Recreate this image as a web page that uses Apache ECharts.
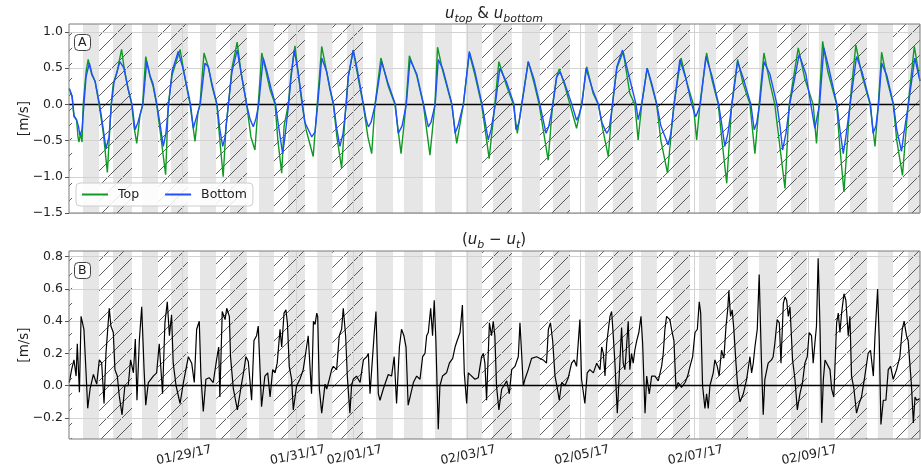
<!DOCTYPE html>
<html>
<head>
<meta charset="utf-8">
<title>u_top &amp; u_bottom</title>
<script src="https://cdn.jsdelivr.net/npm/echarts@6/dist/echarts.min.js"></script>
<style>
  html, body { margin: 0; padding: 0; background: #fff; }
  #main { width: 921px; height: 469px; }
</style>
</head>
<body>
<div id="main"></div>
<script>
// x is hours since 01/27/17 00:00
var xMax = 359.3;
var tickHours = [48, 96, 120, 168, 216, 264, 312];
var tickLabels = ['01/29/17', '01/31/17', '02/01/17', '02/03/17', '02/05/17', '02/07/17', '02/09/17'];
var ticksA = [-1.5, -1.0, -0.5, 0.0, 0.5, 1.0];
var ticksB = [-0.2, 0.0, 0.2, 0.4, 0.6, 0.8];

// shaded (gray) and hatched periods, [start, end] in hours
var grayBands = [[5.9,12.7],[18.6,26.6],[30.8,37.6],[43.1,50.2],[55.3,62.1],[68.0,75.1],[80.2,86.5],[92.5,99.6],
  [104.8,111.2],[117.4,124.1],[129.6,136.8],[141.4,149.4],[154.5,161.7],[167.6,174.4],[179.0,187.0],[191.2,198.8],
  [204.3,211.5],[217.8,223.3],[229.6,238.1],[241.5,248.2],[255.0,262.2],[266.0,273.2],[280.3,286.7],[291.3,298.9],
  [304.8,311.5],[316.6,323.3],[329.7,336.9],[341.5,347.9],[354.2,359.3]];
var hatchBands = [[0,1.3],[12.7,26.6],[37.6,50.2],[62.1,75.1],[86.5,99.6],[111.2,124.1],[174.4,187.0],[198.8,211.5],
  [223.3,238.1],[248.2,262.2],[273.2,286.7],[298.9,311.5],[323.3,336.9],[347.9,359.3]];

// u_top [hour, m/s]
var topVel = [[0.1,0.22],[1.3,0.10],[2.1,-0.17],[3.2,-0.21],[3.8,-0.45],[4.2,-0.52],[4.9,-0.40],[5.5,-0.52],[6.0,0],[7.2,0.45],[8.1,0.62],[9.6,0.41],[11.0,0.32],[12.7,0],[14.5,-0.40],[16.2,-0.94],[17.8,0],[18.7,0.29],[20.3,0.45],[22.2,0.76],[23.2,0.52],[24.9,0.22],[26.5,0],[27.4,-0.30],[28.6,-0.54],[30.0,-0.15],[31.1,0],[32.4,0.66],[34.2,0.38],[35.5,0.25],[37.0,0],[38.8,-0.45],[40.8,-0.97],[41.9,0],[43.5,0.40],[46.9,0.76],[48.5,0.45],[50.2,0.15],[51.1,0],[53.2,-0.51],[54.5,-0.10],[55.3,0],[57.0,0.71],[58.8,0.52],[60.4,0.25],[62.4,0],[63.7,-0.50],[65.1,-1.00],[66.3,-0.30],[67.3,0],[68.8,0.50],[71.0,0.86],[72.6,0.45],[75.0,0],[76.8,-0.45],[78.5,-0.63],[79.9,0],[81.4,0.71],[83.2,0.45],[84.9,0.20],[87.0,0],[88.2,-0.50],[89.8,-0.95],[90.8,-0.30],[92.6,0],[93.7,0.40],[95.4,0.81],[96.7,0.45],[98.4,0],[100.1,-0.35],[103.1,-0.72],[104.8,0],[106.7,0.80],[108.8,0.45],[110.2,0.20],[111.6,0],[113.1,-0.45],[115.1,-0.88],[116.9,0],[117.9,0.38],[120.0,0.75],[121.6,0.45],[124.2,0],[126.2,-0.45],[127.8,-0.68],[129.2,0],[131.7,0.64],[134.8,0.25],[137.6,0],[140.2,-0.68],[142.3,0],[143.7,0.67],[146.8,0.40],[149.6,0],[152.4,-0.70],[154.5,0],[155.6,0.79],[157.9,0.45],[161.6,0],[163.7,-0.54],[166.5,0],[169.0,0.71],[171.4,0.40],[174.2,0],[177.4,-0.75],[179.8,0],[181.5,0.59],[184.8,0.25],[187.6,0],[189.3,-0.40],[191.1,0],[193.9,0.59],[196.3,0.30],[198.5,0],[202.3,-0.77],[204.2,0],[205.9,0.38],[207.0,0.49],[209.4,0.25],[211.5,0],[214.3,-0.33],[216.4,0],[218.6,0.52],[221.3,0.15],[223.5,0],[225.4,-0.35],[227.7,-0.72],[229.4,0],[231.3,0.50],[234.0,0.73],[236.8,0.15],[238.9,0],[240.3,-0.49],[241.8,0],[244.1,0.50],[246.1,0.25],[248.1,0],[249.9,-0.50],[252.7,-0.95],[255.4,0],[258.4,0.64],[260.9,0.30],[263.6,0],[265.0,-0.49],[266.4,0],[269.2,0.71],[271.4,0.35],[274.1,0],[275.7,-0.50],[277.7,-1.09],[279.8,0],[282.3,0.62],[284.5,0.30],[287.5,0],[289.6,-0.68],[291.4,0],[293.4,0.71],[295.9,0.30],[298.0,0],[300.2,-0.60],[302.3,-1.16],[304.1,0],[307.9,0.78],[310.7,0.35],[314.2,0],[315.6,-0.54],[316.7,0],[318.2,0.87],[320.4,0.45],[324.1,0],[325.5,-0.60],[327.2,-1.21],[329.7,0],[332.2,0.82],[334.8,0.40],[338.2,0],[340.3,-0.58],[341.7,0],[343.1,0.72],[345.3,0.35],[348.0,0],[349.5,-0.50],[351.9,-0.98],[354.3,0],[356.9,0.80],[359.3,0.32]];

// u_bottom [hour, m/s]
var bottomVel = [[0.1,0.22],[1.3,0.12],[2.1,-0.15],[3.2,-0.22],[4.0,-0.30],[4.6,-0.43],[5.5,-0.35],[6.3,0],[7.2,0.38],[8.6,0.57],[9.7,0.42],[11.0,0.32],[12.9,0],[14.5,-0.35],[15.6,-0.61],[16.9,-0.45],[17.9,0],[19.0,0.30],[19.8,0.32],[21.5,0.59],[23.2,0.50],[24.9,0.22],[26.6,0],[27.9,-0.35],[29.1,-0.25],[31.2,0],[32.8,0.59],[34.2,0.40],[35.5,0.28],[37.1,0],[38.8,-0.35],[39.8,-0.58],[40.9,-0.40],[42.1,0],[43.5,0.45],[46.1,0.73],[48.1,0.50],[50.2,0.18],[51.3,0],[52.5,-0.33],[53.6,-0.20],[55.4,0],[57.4,0.57],[58.8,0.52],[60.4,0.28],[62.5,0],[63.7,-0.35],[64.9,-0.58],[65.9,-0.45],[67.3,0],[68.8,0.45],[71.0,0.75],[72.6,0.45],[75.0,0],[76.4,-0.20],[77.8,-0.31],[78.9,-0.20],[80.1,0],[82.0,0.64],[83.6,0.45],[85.3,0.22],[87.2,0],[88.7,-0.35],[90.2,-0.68],[91.2,-0.45],[92.7,0],[93.7,0.35],[95.1,0.75],[96.7,0.45],[98.6,0],[99.6,-0.25],[102.5,-0.45],[103.9,-0.38],[105.0,0],[106.7,0.64],[108.8,0.45],[110.2,0.22],[111.7,0],[113.1,-0.35],[114.4,-0.58],[115.7,-0.40],[117.1,0],[117.9,0.38],[120.0,0.75],[121.6,0.50],[124.3,0],[125.4,-0.20],[126.4,-0.31],[127.5,-0.25],[129.3,0],[132.0,0.59],[134.8,0.28],[137.8,0],[139.0,-0.40],[140.6,-0.30],[142.4,0],[144.0,0.62],[146.8,0.42],[149.7,0],[151.7,-0.31],[152.8,-0.25],[154.6,0],[155.9,0.62],[157.9,0.48],[161.7,0],[163.0,-0.40],[164.2,-0.30],[166.5,0],[169.0,0.73],[171.4,0.45],[174.4,0],[177.0,-0.49],[178.2,-0.35],[180.0,0],[181.9,0.50],[184.8,0.30],[187.9,0],[188.7,-0.35],[190.0,-0.25],[191.2,0],[193.9,0.59],[196.3,0.35],[198.8,0],[201.4,-0.40],[202.6,-0.30],[204.3,0],[205.9,0.38],[207.3,0.45],[209.4,0.28],[212.3,0],[214.3,-0.22],[215.3,-0.15],[216.6,0],[218.3,0.50],[221.3,0.18],[223.5,0],[225.0,-0.25],[227.0,-0.40],[228.0,-0.35],[229.5,0],[231.3,0.52],[233.7,0.75],[236.0,0.45],[238.5,0.12],[239.4,0],[240.3,-0.21],[241.8,0],[244.1,0.50],[246.1,0.28],[248.2,0],[249.9,-0.30],[253.0,-0.56],[254.1,-0.40],[255.5,0],[257.9,0.62],[260.5,0.35],[262.9,0],[264.6,-0.17],[265.5,-0.10],[266.5,0],[268.9,0.66],[271.4,0.40],[274.3,0],[275.7,-0.30],[276.9,-0.58],[278.2,-0.40],[279.9,0],[282.3,0.59],[284.5,0.38],[287.9,0],[289.3,-0.35],[290.4,-0.25],[291.6,0],[293.4,0.59],[295.9,0.42],[298.9,0],[300.2,-0.30],[301.3,-0.63],[302.7,-0.40],[304.3,0],[308.3,0.69],[311.1,0.42],[313.2,0],[314.9,-0.33],[316.9,0],[318.7,0.78],[320.8,0.50],[324.2,0],[325.5,-0.35],[326.9,-0.68],[328.0,-0.45],[329.8,0],[332.5,0.66],[334.8,0.45],[338.4,0],[339.5,-0.40],[340.7,-0.30],[341.8,0],[343.1,0.57],[345.3,0.40],[348.1,0],[349.5,-0.35],[351.5,-0.65],[352.5,-0.40],[354.4,0],[357.1,0.64],[359.3,0.32]];

// u_b - u_t [hour, m/s]
var diffVel = [[0.1,0.02],[1.1,0.10],[2.1,0.16],[3.0,0.06],[3.5,0.26],[4.4,-0.04],[5.1,0.43],[5.8,0.44],[6.3,0.35],[7.2,0.08],[7.9,-0.14],[8.9,-0.02],[10.3,0.07],[11.7,0.01],[12.8,0.16],[13.8,0.14],[14.8,-0.11],[15.6,0.20],[17.0,0.48],[17.7,0.37],[18.7,0.33],[19.4,0.10],[20.4,0.06],[21.2,-0.06],[22.4,-0.18],[23.6,0],[25.0,0],[26.0,0.16],[27.2,0.08],[28.0,0.29],[28.7,-0.09],[29.7,0.28],[30.7,0.49],[31.7,0.10],[32.4,-0.12],[33.5,0.02],[35.6,0.06],[37.0,0.08],[38.1,0.26],[38.8,0.25],[39.5,-0.05],[40.5,0.39],[41.5,0.52],[42.4,0.31],[43.3,0.44],[44.0,0.14],[45.2,0],[46.9,-0.11],[48.3,0.02],[50.4,0.18],[51.8,0.14],[52.9,0.02],[53.9,0.35],[55.0,0.40],[55.7,0.06],[56.7,-0.16],[57.8,0.04],[59.2,0.05],[60.9,0.02],[62.3,0.16],[63.2,0.24],[63.7,-0.07],[64.7,0.46],[65.9,0.41],[66.6,0.48],[67.7,0.43],[68.2,0.18],[69.4,-0.02],[71.1,-0.15],[72.5,-0.02],[73.9,0.10],[74.7,0.18],[75.7,0.15],[77.1,-0.09],[78.1,0.28],[79.2,0.31],[79.9,0.37],[81.3,-0.13],[82.7,0.06],[83.9,0.08],[84.9,-0.07],[86.0,0.10],[87.0,0.08],[87.9,0.14],[89.1,0.35],[89.8,0.24],[90.8,0.45],[91.6,0.47],[92.2,0.39],[93.0,0.12],[94.0,0.04],[94.7,-0.15],[96.1,0],[97.5,0.04],
  [98.9,0.10],[101.0,0.31],[102.4,-0.05],[103.2,0.40],[103.9,0.38],[104.6,0.45],[105.0,0.43],[105.7,-0.02],[106.7,-0.17],[108.1,0.01],[108.8,-0.02],[109.9,0.04],[110.9,0.10],[111.6,0.12],[113.0,0.10],[114.1,0.31],[115.1,0.35],[115.8,0.48],[116.8,0.31],[117.5,0.06],[118.6,-0.17],[119.3,0],[120.0,0.04],[121.4,0.06],[122.9,0.02],[124.3,0.16],[125.7,0.18],[126.4,0.20],[127.1,-0.05],[127.8,0.10],[128.8,0.31],[129.6,0.46],[130.6,-0.05],[131.3,-0.09],[132.7,-0.02],[134.1,0.04],[134.8,0.07],[136.2,0.06],[137.3,0.18],[138.3,-0.11],[139.5,0.24],[140.4,0.35],[141.4,0.31],[142.3,0.24],[143.2,-0.12],[144.0,-0.07],[145.4,0.02],[146.8,0.06],[148.2,0.04],[149.3,0.18],[150.3,0.20],[151.0,0.31],[151.7,0.33],[152.7,0.48],[153.5,0.31],[154.2,0.53],[154.9,0.28],[155.9,-0.27],[156.6,0],[157.7,0.06],[159.4,0.08],[160.6,0.14],[162.0,0.17],[163.0,0.24],[163.9,0.28],[165.1,0.33],[166.1,0.50],[166.9,0.08],[167.9,-0.11],[168.6,0.08],[170.0,0.06],[171.4,0.04],[172.8,0.05],[174.2,0.18],[174.9,0.20],[175.6,0.14],[176.3,-0.09],[177.5,0.39],[178.4,0.31],[179.1,0.40],[179.8,0.31],[180.5,0],[181.5,-0.15],[182.7,-0.02],[183.6,0],[184.8,0.03],[185.9,-0.05],[186.9,0.10],[188.3,0.12],[189.7,0.18],[190.4,0.39],[191.1,0.20],[191.8,0],[192.5,0.04],[193.9,0.10],[195.3,0.17],[197.4,0.18],[200.2,0.16],[201.6,0.14],[202.4,0.35],[203.3,0.39],[204.2,0.28],[205.2,0.06],[206.2,-0.02],[207.0,-0.09],[208.0,0.02],[209.4,0],[210.8,0.05],[212.2,0.14],[213.3,0.16],[214.3,0.12],[215.7,0.41],[216.4,0.04],[217.8,-0.11],[218.8,0.08],[219.9,0.10],[221.4,0.08],[222.8,0.14],[224.2,0.10],[224.9,0.24],[225.6,0.20],[226.3,0.06],[227.0,0.26],[228.4,0.43],[229.1,0.46],[229.8,0.31],[230.5,0.14],[231.5,-0.17],
  [232.3,0.06],[233.3,0.36],[234.0,0.14],[234.7,0.10],[235.4,0.24],[236.1,0.40],[236.8,0.10],[237.5,0.20],[238.2,0.14],[238.9,0.22],[239.7,0.28],[240.6,0.33],[241.5,0.43],[242.2,0.26],[243.2,-0.17],[243.9,0.06],[245.0,-0.05],[246.0,0.06],[247.4,0.06],[248.8,0.03],[250.2,0.12],[250.9,0.20],[251.6,0.35],[252.3,0.43],[253.7,0.41],[254.4,0.35],[255.4,0.28],[256.3,-0.02],[257.2,0.02],[258.6,-0.01],[260.1,0.02],[261.2,0.06],[262.2,0.12],[263.3,0.18],[264.3,0.33],[265.3,0.35],[266.1,0.52],[266.7,0.45],[267.5,0],[268.5,-0.14],[269.2,-0.05],[269.9,-0.14],[270.6,0],[272.0,0.08],[272.7,0.16],[273.7,0.12],[274.5,0.06],[275.5,0.22],[276.5,0.17],[277.4,0.37],[278.1,0.47],[278.6,0.59],[279.3,0.43],[280.0,0.47],[280.7,0.35],[281.6,0.14],[282.3,0],[283.3,-0.10],[284.7,-0.05],[286.1,0.04],[287.5,0.18],[288.2,0.08],[288.9,0.14],[289.6,0.24],[290.6,0.35],[291.4,0.69],[292.3,0.18],[293.1,-0.18],[293.8,0.04],[295.2,0.14],[296.6,0.16],[297.3,0.18],[298.0,0.26],[299.0,0.41],[299.9,0.39],[300.6,0.14],[301.6,0.51],[302.3,0.55],[303.0,0.53],[303.7,0.43],[304.4,0.49],[305.5,0.16],[306.5,0.04],[307.5,-0.15],[308.6,-0.05],[309.7,0.02],[310.7,0.14],[311.7,0.18],[312.5,0.33],[313.5,0.31],[314.2,0.14],[314.9,0.26],[315.6,0.37],[316.3,0.79],[317.1,0.35],[317.8,-0.23],[318.5,0.04],[319.2,0.16],[319.9,0.14],[321.3,0.10],[322.0,-0.02],[322.9,-0.07],[324.1,0.39],[324.8,0.45],[325.5,0.33],[326.2,0.45],[327.2,0.57],[328.0,0.53],[329.0,0.31],[329.7,0.43],[330.4,0.06],[331.4,-0.02],[332.5,-0.17],[333.6,-0.11],[334.6,-0.07],[336.0,0.06],[337.4,0.20],[338.4,0.22],[339.6,0.06],[340.3,0.31],[341.4,0.60],[342.1,0.28],[342.8,-0.24],[343.8,-0.09],[344.9,-0.09],[345.9,0.10],[346.9,0.12],[348.0,0.04],[349.4,0.10],[350.1,0.14],[350.8,0.18],[351.8,0.35],[352.6,0.40],[353.6,0.31],[354.3,0.28],[355.0,0.14],[355.7,0],[356.5,-0.23],[357.2,-0.07],[357.9,-0.09],[359.3,-0.08]];

var FONT = 'DejaVu Sans';
var chart = echarts.init(document.getElementById('main'), null, { renderer: 'canvas' });

// '/' hatch tile
function hatchTile() {
  var n = 15;
  var c = document.createElement('canvas');
  c.width = n; c.height = n;
  var g = c.getContext('2d');
  g.strokeStyle = 'rgba(30,30,30,0.8)';
  g.lineWidth = 0.9;
  g.beginPath();
  g.moveTo(-1, n + 1); g.lineTo(n + 1, -1);
  g.moveTo(-1, 1); g.lineTo(1, -1);
  g.moveTo(n - 1, n + 1); g.lineTo(n + 1, n - 1);
  g.stroke();
  return c;
}
var hatchFill = { image: hatchTile(), repeat: 'repeat' };

function fmtY(v) { return v.toFixed(1).replace('-', '\u2212'); }
function fmtX(v) { var i = tickHours.indexOf(v); return i < 0 ? '' : tickLabels[i]; }

function bandArea(bands, style, z) {
  return {
    silent: true, z: z,
    label: { show: false },
    itemStyle: style,
    data: bands.map(function (b) { return [{ xAxis: b[0] }, { xAxis: b[1] }]; })
  };
}

function panelHelpers(idx, yTicks) {
  var gridLines = tickHours.map(function (h) { return { xAxis: h }; })
    .concat(yTicks.filter(function (v) { return v !== 0; }).map(function (v) { return { yAxis: v }; }));
  return [
    { type: 'line', xAxisIndex: idx, yAxisIndex: idx, data: [], silent: true,
      markArea: bandArea(grayBands, { color: '#e6e6e6' }, 1) },
    { type: 'line', xAxisIndex: idx, yAxisIndex: idx, data: [], silent: true,
      markArea: bandArea(hatchBands, { color: hatchFill }, 2) },
    { type: 'line', xAxisIndex: idx, yAxisIndex: idx, data: [], silent: true,
      markLine: { silent: true, z: 3, symbol: 'none', label: { show: false },
        lineStyle: { color: '#d2d2d2', width: 1, type: 'solid' }, data: gridLines } },
    { type: 'line', xAxisIndex: idx, yAxisIndex: idx, data: [], silent: true,
      markLine: { silent: true, z: 4, symbol: 'none', label: { show: false },
        lineStyle: { color: '#000', width: 1.3, type: 'solid' }, data: [{ yAxis: 0 }] } }
  ];
}

function xAxisFor(idx, showLabels) {
  return {
    type: 'value', gridIndex: idx, min: 0, max: xMax,
    axisLine: { show: false },
    axisTick: { show: true, length: 4, customValues: tickHours, lineStyle: { color: '#555' } },
    axisLabel: showLabels ? {
      customValues: tickHours, formatter: fmtX, rotate: 12, align: 'center', verticalAlign: 'top',
      margin: 10, fontSize: 12.5, fontFamily: FONT, color: '#222'
    } : { show: false },
    splitLine: { show: false }
  };
}

function yAxisFor(idx, min, max, ticks) {
  return {
    type: 'value', gridIndex: idx, min: min, max: max,
    name: '[m/s]', nameLocation: 'middle', nameGap: 38, nameMoveOverlap: false,
    nameTextStyle: { fontSize: 13.5, fontFamily: FONT, color: '#222' },
    axisLine: { show: false },
    axisTick: { show: true, length: 4, customValues: ticks, lineStyle: { color: '#555' } },
    axisLabel: { customValues: ticks, formatter: fmtY, margin: 6, fontSize: 12.5, fontFamily: FONT, color: '#222' },
    splitLine: { show: false }
  };
}

var sub = { fontSize: 11, fontStyle: 'italic', fontWeight: 'normal', fontFamily: FONT, color: '#222', lineHeight: 22, verticalAlign: 'bottom' };
var ital = { fontSize: 15, fontStyle: 'italic', fontWeight: 'normal', fontFamily: FONT, color: '#222', lineHeight: 22, verticalAlign: 'middle' };
var norm = { fontSize: 15, fontWeight: 'normal', fontFamily: FONT, color: '#222', lineHeight: 22, verticalAlign: 'middle' };

var option = {
  animation: false,
  textStyle: { fontFamily: FONT },
  title: [
    { text: '{i|u}{s|top}{n| & }{i|u}{s|bottom}', left: 494, top: 3, textAlign: 'center', padding: 0,
      textStyle: { fontWeight: 'normal', rich: { i: ital, s: sub, n: norm } } },
    { text: '{n|(}{i|u}{s|b}{n| \u2212 }{i|u}{s|t}{n|)}', left: 494, top: 229, textAlign: 'center', padding: 0,
      textStyle: { fontWeight: 'normal', rich: { i: ital, s: sub, n: norm } } },
    { text: 'A', left: 74, top: 34, padding: [2, 4], z: 12, backgroundColor: '#fff',
      borderColor: '#444', borderWidth: 1, borderRadius: 4,
      textStyle: { fontSize: 12.5, fontWeight: 'normal', fontFamily: FONT, color: '#222' } },
    { text: 'B', left: 74, top: 262, padding: [2, 4], z: 12, backgroundColor: '#fff',
      borderColor: '#444', borderWidth: 1, borderRadius: 4,
      textStyle: { fontSize: 12.5, fontWeight: 'normal', fontFamily: FONT, color: '#222' } }
  ],
  legend: {
    data: ['Top', 'Bottom'], left: 76, top: 183, z: 12,
    icon: 'rect', itemWidth: 26, itemHeight: 2, itemGap: 26,
    padding: [5, 6], backgroundColor: 'rgba(255,255,255,0.85)',
    borderColor: '#cccccc', borderWidth: 1, borderRadius: 4,
    textStyle: { fontSize: 12.5, fontFamily: FONT, color: '#222', padding: [0, 0, 0, 5] }
  },
  grid: [
    { left: 69, right: 1, top: 24, height: 189, show: true, z: 10, backgroundColor: 'transparent', borderColor: '#7a7a7a', borderWidth: 1 },
    { left: 69, right: 1, top: 251, height: 188, show: true, z: 10, backgroundColor: 'transparent', borderColor: '#7a7a7a', borderWidth: 1 }
  ],
  xAxis: [xAxisFor(0, false), xAxisFor(1, true)],
  yAxis: [yAxisFor(0, -1.5, 1.11, ticksA), yAxisFor(1, -0.33, 0.835, ticksB)],
  series: panelHelpers(0, ticksA).concat(panelHelpers(1, ticksB)).concat([
    { name: 'Top', type: 'line', xAxisIndex: 0, yAxisIndex: 0, data: topVel, z: 5,
      showSymbol: false, color: '#109a24', lineStyle: { width: 1.4 } },
    { name: 'Bottom', type: 'line', xAxisIndex: 0, yAxisIndex: 0, data: bottomVel, z: 5,
      showSymbol: false, color: '#1f4fff', lineStyle: { width: 1.4 } },
    { name: 'diff', type: 'line', xAxisIndex: 1, yAxisIndex: 1, data: diffVel, z: 5,
      showSymbol: false, color: '#000', lineStyle: { width: 1.2 } }
  ])
};
chart.setOption(option);
</script>
</body>
</html>
